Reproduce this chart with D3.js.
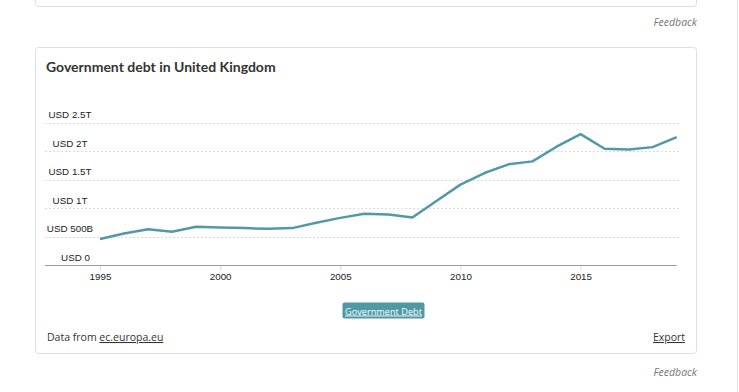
<!DOCTYPE html>
<html><head><meta charset="utf-8">
<script src="https://cdn.jsdelivr.net/npm/d3@7"></script>
<style>
html,body{margin:0;padding:0;background:#fff;width:739px;height:392px;overflow:hidden;}
svg{display:block;}
</style></head>
<body>
<svg id="c" width="739" height="392"></svg>
<script>
const years = [1995,1996,1997,1998,1999,2000,2001,2002,2003,2004,2005,2006,2007,2008,2009,2010,2011,2012,2013,2014,2015,2016,2017,2018,2019];
const debtT = [0.455,0.554,0.629,0.583,0.670,0.659,0.647,0.635,0.647,0.740,0.827,0.900,0.886,0.834,1.124,1.410,1.614,1.766,1.818,2.075,2.295,2.040,2.028,2.068,2.243];
const yTicks = [0,0.5,1,1.5,2,2.5];
const yTickLabels = ["USD 0","USD 500B","USD 1T","USD 1.5T","USD 2T","USD 2.5T"];
const xTicks = [1995,2000,2005,2010,2015];
const seriesName = "Government Debt";
const title = "Government debt in United Kingdom";

const svg = d3.select("#c");
const lineColor = "#5299a7";

svg.append("line").attr("x1",737.5).attr("x2",737.5).attr("y1",0).attr("y2",392).attr("stroke","#e2e2e2");

svg.append("rect").attr("x",35.5).attr("y",-10).attr("width",661).attr("height",16.5).attr("rx",3)
  .attr("fill","#fff").attr("stroke","#dedede");
svg.append("text").attr("x",697).attr("y",26).attr("text-anchor","end")
  .attr("font-family","Open Sans").attr("font-style","italic").attr("font-size",10.5).attr("fill","#777").text("Feedback");

svg.append("rect").attr("x",35.5).attr("y",47.5).attr("width",661).attr("height",306).attr("rx",3)
  .attr("fill","#fff").attr("stroke","#dedede");
svg.append("text").attr("x",46).attr("y",71.5)
  .attr("font-family","Lato").attr("font-weight","bold").attr("font-size",14).attr("fill","#333").text(title);

svg.append("text").attr("x",697).attr("y",376).attr("text-anchor","end")
  .attr("font-family","Open Sans").attr("font-style","italic").attr("font-size",10.5).attr("fill","#777").text("Feedback");

const x = d3.scaleLinear().domain([1995,2019]).range([100,676.7]);
const y = d3.scaleLinear().domain([0,2.5]).range([265,122.5]);

const grid = svg.append("g");
grid.selectAll("line").data(yTicks.slice(1)).join("line")
  .attr("x1",45).attr("x2",680)
  .attr("y1",d=>Math.round(y(d))+0.5).attr("y2",d=>Math.round(y(d))+0.5)
  .attr("stroke","#dcdcdc").attr("stroke-dasharray","2,2");

svg.append("g").selectAll("text").data(yTicks).join("text")
  .attr("x",(d,i)=> i===0 ? 75.5 : 70)
  .attr("y",d=>y(d)-4.5)
  .attr("text-anchor","middle")
  .attr("font-family","Liberation Sans").attr("font-size",9.8).attr("fill","#222")
  .text((d,i)=>yTickLabels[i]);

const xAxis = d3.axisBottom(x).tickValues(xTicks).tickFormat(d3.format("d")).tickSize(5).tickPadding(3);
const gx = svg.append("g").attr("transform","translate(0,265)").call(xAxis);
gx.select(".domain").attr("d","M45,0.5H676.7").attr("stroke","#999");
gx.selectAll(".tick line").attr("stroke","#ddd").attr("transform","translate(0,1)");
gx.selectAll(".tick text").attr("font-family","Liberation Sans").attr("font-size",9.8).attr("fill","#222");

const line = d3.line().x((d,i)=>x(years[i])).y(d=>y(d));
svg.append("path").datum(debtT).attr("d",line).attr("fill","none")
  .attr("stroke",lineColor).attr("stroke-width",2.5).attr("stroke-linejoin","round");

const lg = svg.append("g");
lg.append("rect").attr("x",342.5).attr("y",302.5).attr("width",82).attr("height",16).attr("rx",2).attr("fill","#4f98a6");
lg.append("text").attr("x",383.5).attr("y",314.5).attr("text-anchor","middle")
  .attr("font-family","Open Sans").attr("font-size",9.2).attr("fill","#fff")
  .attr("textLength",77).attr("lengthAdjust","spacingAndGlyphs")
  .attr("text-decoration","underline").text(seriesName);

const ft = svg.append("text").attr("x",47).attr("y",341)
  .attr("font-family","Open Sans").attr("font-size",10.5).attr("fill","#333");
ft.append("tspan").text("Data from ");
ft.append("tspan").attr("text-decoration","underline").text("ec.europa.eu");
svg.append("text").attr("x",685).attr("y",341).attr("text-anchor","end")
  .attr("font-family","Open Sans").attr("font-size",10.5).attr("fill","#333")
  .attr("text-decoration","underline").text("Export");
</script>
</body></html>
